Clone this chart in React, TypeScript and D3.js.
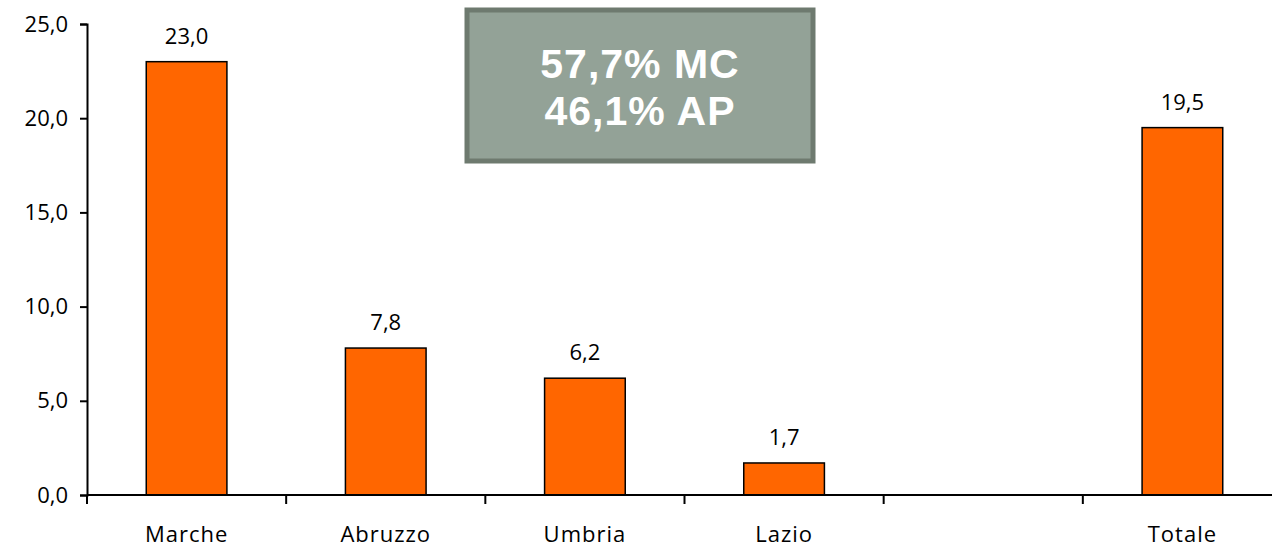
import React, { useEffect, useRef } from 'react';
import * as d3 from 'd3';

const categories = ['Marche', 'Abruzzo', 'Umbria', 'Lazio', '', 'Totale'];
const values: (number | null)[] = [23.0, 7.8, 6.2, 1.7, null, 19.5];
const yTicks = [0, 5, 10, 15, 20, 25];
const boxLines = ['57,7% MC', '46,1% AP'];

const W = 1272;
const H = 549;

export default function App() {
  const ref = useRef<SVGSVGElement>(null);

  useEffect(() => {
    if (!ref.current) return;
    const svg = d3.select(ref.current);
    svg.selectAll('*').remove();

    const fmt = (v: number) => d3.format('.1f')(v).replace('.', ',');
    const font = "'Open Sans', 'Noto Sans', sans-serif";

    const x = d3.scaleBand<string>()
      .domain(categories.map((c, i) => String(i)))
      .range([87, 1282])
      .padding(0);
    const y = d3.scaleLinear().domain([0, 25]).range([495, 24]);
    const barW = x.bandwidth() * 0.405;
    const bars = values.map((v, i) => ({ v, i })).filter(d => d.v !== null);

    // bars
    svg.append('g')
      .selectAll('rect')
      .data(bars)
      .join('rect')
      .attr('x', d => x(String(d.i))! + (x.bandwidth() - barW) / 2)
      .attr('y', d => y(d.v as number))
      .attr('width', barW)
      .attr('height', d => y(0) - y(d.v as number))
      .attr('fill', '#ff6600')
      .attr('stroke', '#000')
      .attr('stroke-width', 1.5);

    // value labels
    svg.append('g')
      .selectAll('text')
      .data(bars)
      .join('text')
      .attr('x', d => x(String(d.i))! + x.bandwidth() / 2)
      .attr('y', d => y(d.v as number) - 18)
      .attr('text-anchor', 'middle')
      .style('font-family', font)
      .style('font-size', '22px')
      .attr('fill', '#000')
      .text(d => fmt(d.v as number));

    // y axis
    const yAxis = svg.append('g')
      .attr('transform', 'translate(87,0)')
      .call(d3.axisLeft(y).tickValues(yTicks).tickFormat(d => fmt(d as number)).tickSize(7).tickPadding(12));
    yAxis.select('.domain').attr('stroke', '#000').attr('stroke-width', 2);
    yAxis.selectAll('.tick line').attr('stroke', '#000').attr('stroke-width', 2);
    yAxis.selectAll('.tick text')
      .style('font-family', font)
      .style('font-size', '22px')
      .attr('fill', '#000');

    // x axis
    const xAxis = svg.append('g')
      .attr('transform', `translate(0,${y(0)})`);
    xAxis.append('line')
      .attr('x1', 87).attr('x2', 1282)
      .attr('stroke', '#000').attr('stroke-width', 2);
    xAxis.selectAll('line.tk')
      .data(categories.map((c, i) => i))
      .join('line')
      .attr('class', 'tk')
      .attr('x1', i => x(String(i))!)
      .attr('x2', i => x(String(i))!)
      .attr('y1', 0).attr('y2', 9)
      .attr('stroke', '#000').attr('stroke-width', 2);
    xAxis.selectAll('text')
      .data(categories.map((c, i) => ({ c, i })))
      .join('text')
      .attr('x', d => x(String(d.i))! + x.bandwidth() / 2)
      .attr('y', 47)
      .attr('text-anchor', 'middle')
      .style('font-family', font)
      .style('font-size', '22px')
      .style('letter-spacing', '1px')
      .attr('fill', '#000')
      .text(d => d.c);

    // annotation box
    const box = svg.append('g');
    box.append('rect')
      .attr('x', 467).attr('y', 10)
      .attr('width', 346).attr('height', 151)
      .attr('fill', '#93a297')
      .attr('stroke', '#6e7a6f')
      .attr('stroke-width', 5);
    box.selectAll('text')
      .data(boxLines)
      .join('text')
      .attr('x', 640)
      .attr('y', (d, i) => 78 + i * 47)
      .attr('text-anchor', 'middle')
      .style('font-family', "'Liberation Sans', Arial, sans-serif")
      .style('font-weight', 'bold')
      .style('font-size', '41px')
      .style('letter-spacing', '1px')
      .attr('fill', '#fff')
      .text(d => d);
  }, []);

  return (
    <svg
      ref={ref}
      width={W}
      height={H}
      style={{ position: 'absolute', left: 0, top: 0, background: '#fff' }}
    />
  );
}
